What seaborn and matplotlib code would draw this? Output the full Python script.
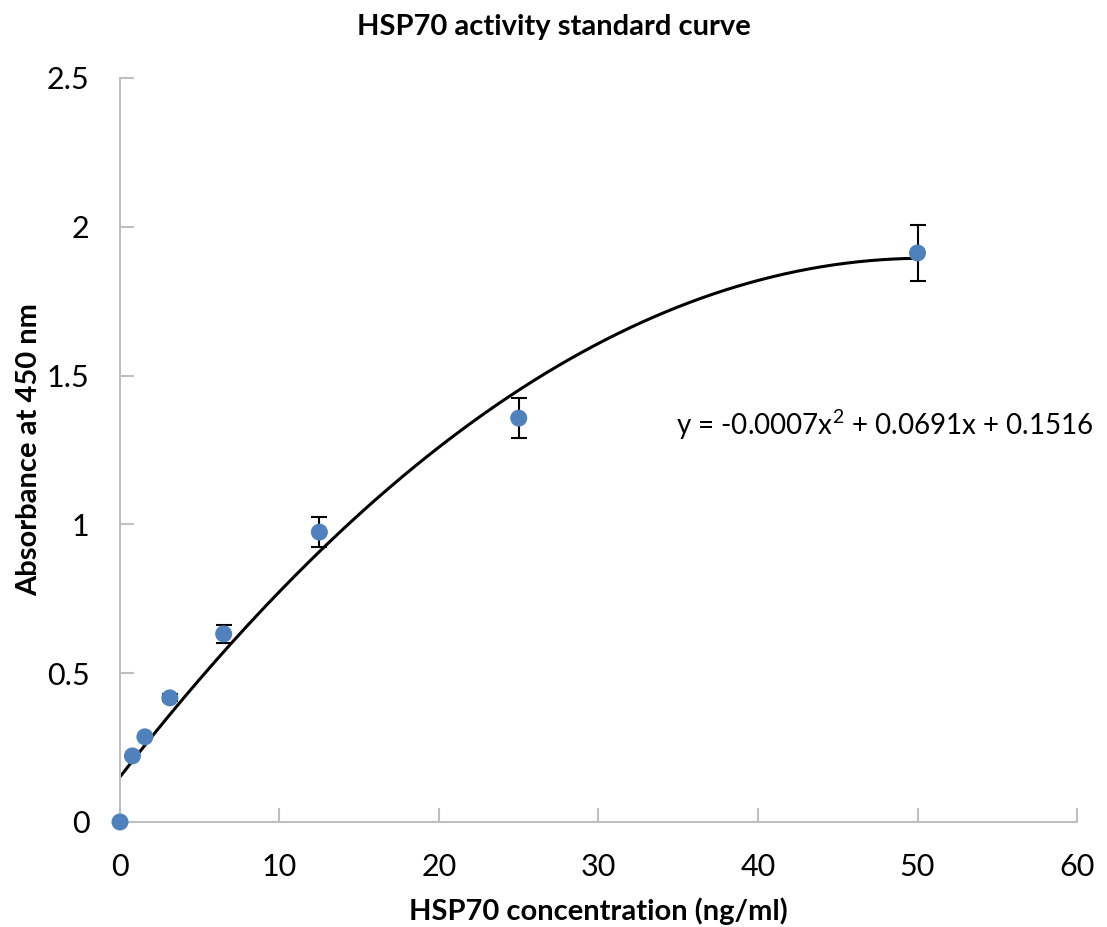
import numpy as np
import pandas as pd
import matplotlib
matplotlib.use("Agg")
import matplotlib.pyplot as plt
import seaborn as sns

# Data
concentration = [0, 0.78, 1.56, 3.125, 6.5, 12.5, 25, 50]
absorbance = [0.0, 0.222, 0.286, 0.417, 0.632, 0.974, 1.357, 1.912]
error = [0.0, 0.0, 0.0, 0.012, 0.03, 0.05, 0.067, 0.094]
trend_coef = [-0.000685, 0.0691, 0.1516]
equation_text = "y = -0.0007x$^2$ + 0.0691x + 0.1516"
title = "HSP70 activity standard curve"
xlabel = "HSP70 concentration (ng/ml)"
ylabel = "Absorbance at 450 nm"
xticks = [0, 10, 20, 30, 40, 50, 60]
yticks = [0, 0.5, 1, 1.5, 2, 2.5]
yticklabels = ["0", "0.5", "1", "1.5", "2", "2.5"]

sns.set_style("white")
plt.rcParams['font.family'] = ['Lato', 'DejaVu Sans']
plt.rcParams['mathtext.fontset'] = 'custom'
plt.rcParams['mathtext.rm'] = 'Lato'
plt.rcParams['text.color'] = 'black'
plt.rcParams['axes.labelcolor'] = 'black'

fig = plt.figure(figsize=(11.07, 9.27), dpi=100)
ax = fig.add_axes([0.1084, 0.1133, 0.8645, 0.8026])

df = pd.DataFrame({"x": concentration, "y": absorbance, "err": error})

# trendline
xs = np.linspace(0, 50, 200)
ys = np.polyval(trend_coef, xs)
sns.lineplot(x=xs, y=ys, ax=ax, color="black", linewidth=2.2, zorder=2)

ax.errorbar(df["x"], df["y"], yerr=df["err"], fmt="none", ecolor="black",
            elinewidth=1.5, capsize=6, capthick=1.5, zorder=3)
sns.scatterplot(data=df, x="x", y="y", ax=ax, color="#4f81bd", s=150,
                edgecolor="none", zorder=4, clip_on=False)

ax.set_xlim(0, 60)
ax.set_ylim(0, 2.5)
ax.set_xticks(xticks)
ax.set_yticks(yticks)
ax.set_yticklabels(yticklabels)
ax.tick_params(axis="both", which="major", direction="in", length=10, width=1.5,
               color="#bfbfbf", labelsize=22, labelcolor="black",
               bottom=True, left=True)
ax.tick_params(axis="x", pad=22)
ax.tick_params(axis="y", pad=22)

for s in ["top", "right"]:
    ax.spines[s].set_visible(False)
for s in ["left", "bottom"]:
    ax.spines[s].set_color("#bfbfbf")
    ax.spines[s].set_linewidth(1.5)

ax.set_xlabel(xlabel, fontsize=21, fontweight="bold", labelpad=12)
ax.set_ylabel(ylabel, fontsize=21, fontweight="bold", labelpad=3)
fig.suptitle(title, fontsize=21, fontweight="bold", y=0.985)

ax.text(34.85, 1.335, equation_text, fontsize=20, ha="left", va="center")

fig.savefig("out.png", dpi=100)
